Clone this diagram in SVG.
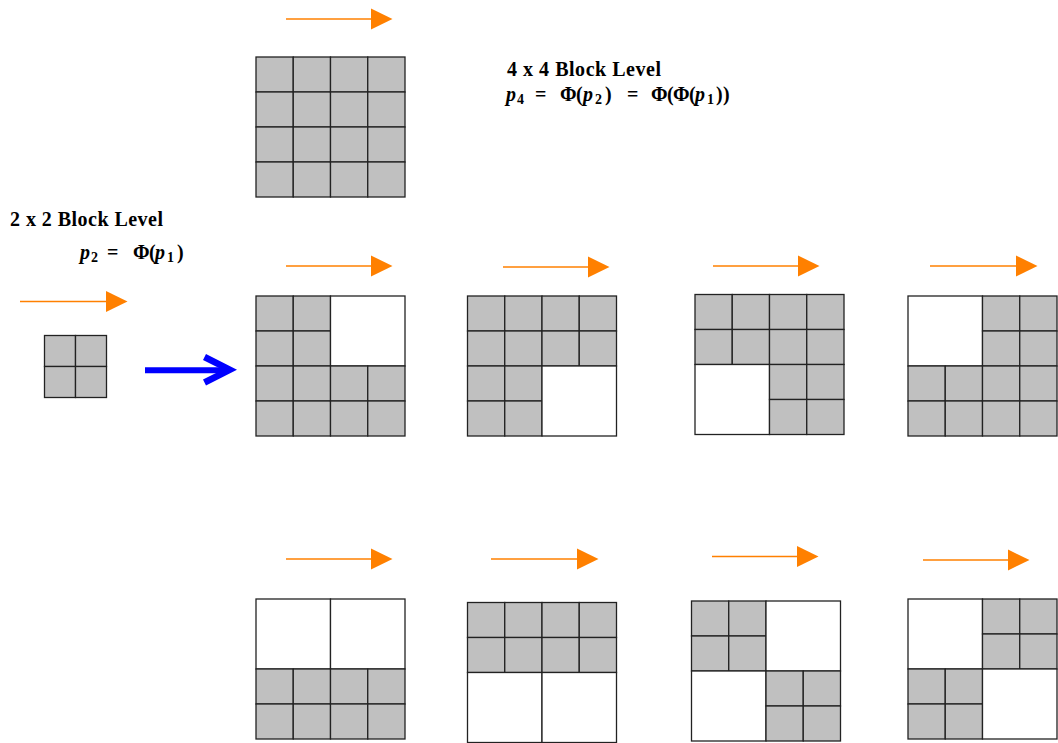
<svg xmlns="http://www.w3.org/2000/svg" xmlns:xlink="http://www.w3.org/1999/xlink" width="1058" height="743" viewBox="0 0 1058 743">
<style>
.cell{fill:#c0c0c0;stroke:#222;stroke-width:1.3}
.wq{fill:#ffffff;stroke:#222;stroke-width:1.3}
.lbl{font-family:"Liberation Serif","Times New Roman",serif;font-weight:bold;font-size:20px;fill:#000}
.it{font-style:italic}
.sub{font-size:14px}
.oline{stroke:#ff8000;stroke-width:1.6;fill:none}
.ohead{fill:#ff8000}
</style>
<defs>
<g id="qg">
<rect class="cell" x="0" y="0" width="37.25" height="35"/>
<rect class="cell" x="37.25" y="0" width="37.25" height="35"/>
<rect class="cell" x="0" y="35" width="37.25" height="35"/>
<rect class="cell" x="37.25" y="35" width="37.25" height="35"/>
</g>
<rect id="qw" class="wq" x="0" y="0" width="74.5" height="70"/>
</defs>
<rect x="0" y="0" width="1058" height="743" fill="#ffffff"/>

<g id="label-4x4">
<text class="lbl" x="507" y="76" textLength="154" lengthAdjust="spacing">4 x 4 Block Level</text>
<text class="lbl"><tspan class="it" x="506" y="101">p</tspan><tspan class="sub" x="517" y="104">4</tspan><tspan x="535" y="101">=</tspan><tspan x="560" y="101">Φ</tspan><tspan x="576" y="101">(</tspan><tspan class="it" x="583" y="101">p</tspan><tspan class="sub" x="595" y="104">2</tspan><tspan x="605" y="101">)</tspan><tspan x="627" y="101">=</tspan><tspan x="651" y="101">Φ</tspan><tspan x="667" y="101">(</tspan><tspan x="673" y="101">Φ</tspan><tspan x="689" y="101">(</tspan><tspan class="it" x="695" y="101">p</tspan><tspan class="sub" x="707" y="104">1</tspan><tspan x="716" y="101">)</tspan><tspan x="723" y="101">)</tspan></text>
</g>

<g id="label-2x2">
<text class="lbl" x="10" y="226" textLength="153" lengthAdjust="spacing">2 x 2 Block Level</text>
<text class="lbl"><tspan class="it" x="80" y="259">p</tspan><tspan class="sub" x="91" y="262">2</tspan><tspan x="107" y="259">=</tspan><tspan x="133" y="259">Φ</tspan><tspan x="149" y="259">(</tspan><tspan class="it" x="155" y="259">p</tspan><tspan class="sub" x="167" y="262">1</tspan><tspan x="177" y="259">)</tspan></text>
</g>

<g id="grid-2x2">
<rect class="cell" x="44.5" y="335.5" width="31" height="31"/>
<rect class="cell" x="75.5" y="335.5" width="31" height="31"/>
<rect class="cell" x="44.5" y="366.5" width="31" height="31"/>
<rect class="cell" x="75.5" y="366.5" width="31" height="31"/>
</g>

<g id="grid-4x4-top">
<use xlink:href="#qg" x="256" y="57"/><use xlink:href="#qg" x="330.5" y="57"/>
<use xlink:href="#qg" x="256" y="127"/><use xlink:href="#qg" x="330.5" y="127"/>
</g>

<g id="grid-a">
<use xlink:href="#qg" x="256" y="296"/><use xlink:href="#qw" x="330.5" y="296"/>
<use xlink:href="#qg" x="256" y="366"/><use xlink:href="#qg" x="330.5" y="366"/>
</g>
<g id="grid-b">
<use xlink:href="#qg" x="467.5" y="296"/><use xlink:href="#qg" x="542" y="296"/>
<use xlink:href="#qg" x="467.5" y="366"/><use xlink:href="#qw" x="542" y="366"/>
</g>
<g id="grid-c">
<use xlink:href="#qg" x="695" y="294.5"/><use xlink:href="#qg" x="769.5" y="294.5"/>
<use xlink:href="#qw" x="695" y="364.5"/><use xlink:href="#qg" x="769.5" y="364.5"/>
</g>
<g id="grid-d">
<use xlink:href="#qw" x="908" y="296"/><use xlink:href="#qg" x="982.5" y="296"/>
<use xlink:href="#qg" x="908" y="366"/><use xlink:href="#qg" x="982.5" y="366"/>
</g>
<g id="grid-e">
<use xlink:href="#qw" x="256" y="599"/><use xlink:href="#qw" x="330.5" y="599"/>
<use xlink:href="#qg" x="256" y="669"/><use xlink:href="#qg" x="330.5" y="669"/>
</g>
<g id="grid-f">
<use xlink:href="#qg" x="467.5" y="602.5"/><use xlink:href="#qg" x="542" y="602.5"/>
<use xlink:href="#qw" x="467.5" y="672.5"/><use xlink:href="#qw" x="542" y="672.5"/>
</g>
<g id="grid-g">
<use xlink:href="#qg" x="691.5" y="601"/><use xlink:href="#qw" x="766" y="601"/>
<use xlink:href="#qw" x="691.5" y="671"/><use xlink:href="#qg" x="766" y="671"/>
</g>
<g id="grid-h">
<use xlink:href="#qw" x="908" y="599"/><use xlink:href="#qg" x="982.5" y="599"/>
<use xlink:href="#qg" x="908" y="669"/><use xlink:href="#qw" x="982.5" y="669"/>
</g>

<g id="connectors">
<g id="orange-arrows">
<line class="oline" x1="286" y1="19" x2="372" y2="19"/><polygon class="ohead" points="371,8.5 392.5,19 371,29.5"/>
<line class="oline" x1="20" y1="301.5" x2="107" y2="301.5"/><polygon class="ohead" points="106,291 127.5,301.5 106,312"/>
<line class="oline" x1="286" y1="266" x2="372" y2="266"/><polygon class="ohead" points="371,255.5 392.5,266 371,276.5"/>
<line class="oline" x1="503" y1="267" x2="589" y2="267"/><polygon class="ohead" points="588,256.5 609.5,267 588,277.5"/>
<line class="oline" x1="713" y1="266" x2="799" y2="266"/><polygon class="ohead" points="798,255.5 819.5,266 798,276.5"/>
<line class="oline" x1="930" y1="266" x2="1017" y2="266"/><polygon class="ohead" points="1016,255.5 1037.5,266 1016,276.5"/>
<line class="oline" x1="286" y1="559" x2="372" y2="559"/><polygon class="ohead" points="371,548.5 392.5,559 371,569.5"/>
<line class="oline" x1="491" y1="559" x2="578" y2="559"/><polygon class="ohead" points="577,548.5 598.5,559 577,569.5"/>
<line class="oline" x1="712" y1="556.5" x2="798" y2="556.5"/><polygon class="ohead" points="797,546 818.5,556.5 797,567"/>
<line class="oline" x1="923" y1="560" x2="1009" y2="560"/><polygon class="ohead" points="1008,549.5 1029.5,560 1008,570.5"/>
</g>
<g id="blue-arrow">
<line x1="145" y1="370.3" x2="226" y2="370.3" stroke="#0000ff" stroke-width="6"/>
<polygon fill="#0000ff" points="206,354 237,369.8 206,385.5 203,379.6 222.5,369.8 203,360"/>
</g>
</g>
</svg>
